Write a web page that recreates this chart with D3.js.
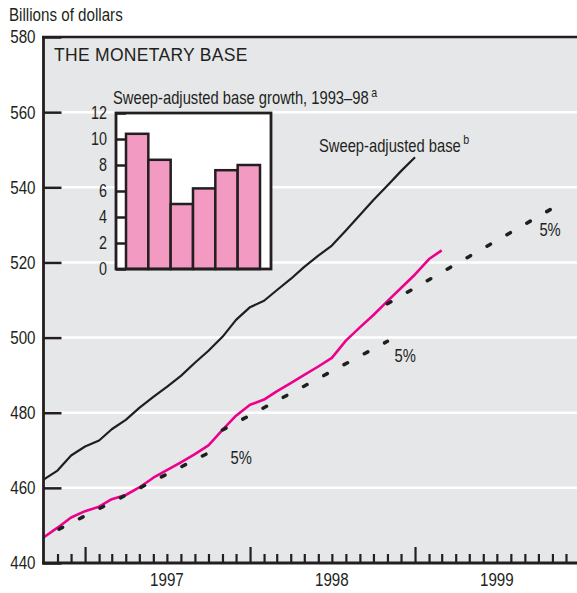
<!DOCTYPE html>
<html>
<head>
<meta charset="utf-8">
<script src="https://cdn.jsdelivr.net/npm/d3@7"></script>
<style>
  html, body { margin: 0; padding: 0; background: #fff; }
  svg { display: block; }
  text { font-family: "Liberation Sans", Arial, sans-serif; fill: #231f20; }
</style>
</head>
<body>
<svg id="chart" width="577" height="593"></svg>
<script>
// Monthly observations, October 1996 onward (billions of dollars)
const months = [
  "1996-10", "1996-11", "1996-12",
  "1997-01", "1997-02", "1997-03", "1997-04", "1997-05", "1997-06",
  "1997-07", "1997-08", "1997-09", "1997-10", "1997-11", "1997-12",
  "1998-01", "1998-02", "1998-03", "1998-04", "1998-05", "1998-06",
  "1998-07", "1998-08", "1998-09", "1998-10", "1998-11", "1998-12",
  "1999-01", "1999-02", "1999-03"
];
const sweepAdjustedBase = [
  462.2, 464.6, 468.6,
  471.0, 472.6, 475.6, 478.1, 481.3, 484.2,
  486.9, 489.8, 493.3, 496.5, 500.2, 504.7,
  508.1, 509.8, 512.6, 515.6, 518.8, 521.8,
  524.5, 528.5, 532.6, 536.6, 540.5, 544.3,
  548.0
];
const monetaryBase = [
  446.8, 449.4, 452.1,
  453.8, 455.0, 457.0, 458.1, 460.1, 462.7,
  464.7, 466.8, 469.0, 471.3, 475.4, 479.2,
  482.1, 483.5, 485.7, 487.9, 490.1, 492.3,
  494.6, 499.2, 502.7, 506.0, 509.7, 513.2,
  516.8, 520.9, 523.2
];

// 5 percent growth paths
const trendFrom = ["1996-10", "1997-11", "1998-11"];
const trendTo = ["1997-11", "1998-11", "1999-11"];
const trendFromValue = [446.9, 475.4, 509.0];
const trendToValue = [471.2, 499.0, 534.4];
const trendLabel = ["5%", "5%", "5%"];

const yTicks = [440, 460, 480, 500, 520, 540, 560, 580];
const yearLabels = ["1997", "1998", "1999"];

// Inset: annual sweep-adjusted base growth, percent
const insetYears = ["1993", "1994", "1995", "1996", "1997", "1998"];
const insetGrowth = [10.4, 8.4, 5.0, 6.2, 7.6, 8.0];
const insetTicks = [0, 2, 4, 6, 8, 10, 12];

const parseMonth = d3.timeParse("%Y-%m");
const svg = d3.select("#chart");

// Condensed lettering: squeeze text horizontally while keeping its anchor point
const NARROW = 0.82;
function narrow(sel) {
  sel.each(function () {
    const t = d3.select(this);
    const x0 = +t.attr("x") || 0;
    t.attr("x", x0 / NARROW).attr("transform", `scale(${NARROW},1)`);
  });
  return sel;
}

const plot = { left: 43.5, right: 580, top: 37, bottom: 563 };

const x = d3.scaleTime()
  .domain([new Date(1996, 9, 1), new Date(2000, 0, 1)])
  .range([plot.left, plot.right]);
const y = d3.scaleLinear()
  .domain([440, 580])
  .range([plot.bottom, plot.top]);

// plot background
svg.append("rect")
  .attr("x", plot.left).attr("y", plot.top)
  .attr("width", plot.right - plot.left).attr("height", plot.bottom - plot.top)
  .attr("fill", "#e6e7e9");

// white gridlines
svg.append("g").selectAll("line")
  .data(yTicks.filter(v => v > 440 && v < 580))
  .join("line")
  .attr("x1", plot.left).attr("x2", plot.right)
  .attr("y1", d => y(d)).attr("y2", d => y(d))
  .attr("stroke", "#fff").attr("stroke-width", 2.5);

// ---- inset bar chart ----
const inset = { left: 116, right: 271, top: 113, bottom: 269 };
const ix = d3.scaleBand().domain(insetYears).range([inset.left + 10, inset.right - 11]).padding(0);
const iy = d3.scaleLinear().domain([0, 12]).range([inset.bottom, inset.top]);

const gi = svg.append("g");
gi.append("rect")
  .attr("x", inset.left).attr("y", inset.top)
  .attr("width", inset.right - inset.left).attr("height", inset.bottom - inset.top)
  .attr("fill", "#fff");
gi.selectAll("rect.bar")
  .data(insetGrowth)
  .join("rect")
  .attr("class", "bar")
  .attr("x", (d, i) => ix(insetYears[i]))
  .attr("width", ix.bandwidth())
  .attr("y", d => iy(d))
  .attr("height", d => iy(0) - iy(d))
  .attr("fill", "#f39ac3")
  .attr("stroke", "#231f20").attr("stroke-width", 2.5);

const insetAxis = gi.append("g")
  .attr("transform", `translate(${inset.left},0)`)
  .call(d3.axisLeft(iy).tickValues(insetTicks).tickSize(-10).tickPadding(9));
insetAxis.select(".domain").remove();
insetAxis.selectAll(".tick line").attr("stroke", "#231f20").attr("stroke-width", 2.5);
narrow(insetAxis.selectAll(".tick text")
  .attr("font-size", 17.5).attr("fill", "#231f20")
  .attr("font-family", null));

gi.append("rect")
  .attr("x", inset.left).attr("y", inset.top)
  .attr("width", inset.right - inset.left).attr("height", inset.bottom - inset.top)
  .attr("fill", "none").attr("stroke", "#231f20").attr("stroke-width", 2.8);

const insetTitle = gi.append("text")
  .attr("x", 113).attr("y", 104)
  .attr("font-size", 18);
insetTitle.append("tspan").text("Sweep-adjusted base growth, 1993\u201398");
insetTitle.append("tspan").attr("font-size", 13).attr("dx", 3).attr("dy", -7).text("a");
narrow(insetTitle);

// ---- series ----
const line = d3.line()
  .x(d => x(d[0]))
  .y(d => y(d[1]));

const basePoints = monetaryBase.map((v, i) => [parseMonth(months[i]), v]);
const sweepPoints = sweepAdjustedBase.map((v, i) => [parseMonth(months[i]), v]);

svg.append("path")
  .attr("d", line(basePoints))
  .attr("fill", "none").attr("stroke", "#ec008c")
  .attr("stroke-width", 2.6).attr("stroke-linejoin", "round");

svg.append("path")
  .attr("d", line(sweepPoints))
  .attr("fill", "none").attr("stroke", "#1f1f1f")
  .attr("stroke-width", 2.2).attr("stroke-linejoin", "round");

// dotted growth paths
const dashOn = 4, dashOff = 19;
const trendStartGap = [17.4, 0, 0];
trendFrom.forEach((f, i) => {
  const pts = [[parseMonth(f), trendFromValue[i]], [parseMonth(trendTo[i]), trendToValue[i]]];
  svg.append("path")
    .attr("d", line(pts))
    .attr("fill", "none").attr("stroke", "#1f1f1f")
    .attr("stroke-width", 3.5).attr("stroke-linecap", "round")
    .attr("stroke-dasharray", `${dashOn} ${dashOff}`)
    .attr("stroke-dashoffset", (dashOn + dashOff - trendStartGap[i]) % (dashOn + dashOff));
});

// growth path labels, placed relative to each path end
const trendLabelOffset = [[8, 18], [7, 21], [-13, 28]];
trendLabel.forEach((t, i) => {
  narrow(svg.append("text")
    .attr("x", x(parseMonth(trendTo[i])) + trendLabelOffset[i][0])
    .attr("y", y(trendToValue[i]) + trendLabelOffset[i][1])
    .attr("font-size", 18)
    .text(t));
});

// series label
const sweepLabel = svg.append("text")
  .attr("x", 319).attr("y", 152)
  .attr("font-size", 18);
sweepLabel.append("tspan").text("Sweep-adjusted base");
sweepLabel.append("tspan").attr("font-size", 13).attr("dx", 3).attr("dy", -8).text("b");
narrow(sweepLabel);

// ---- axes ----
const yAxis = svg.append("g")
  .attr("transform", `translate(${plot.left},0)`)
  .call(d3.axisLeft(y).tickValues(yTicks).tickSize(-18).tickPadding(8).tickFormat(d3.format("d")));
yAxis.select(".domain").remove();
yAxis.selectAll(".tick line").attr("stroke", "#231f20").attr("stroke-width", 2.5);
narrow(yAxis.selectAll(".tick text").attr("font-size", 18.5).attr("fill", "#231f20").attr("font-family", null));

const xAxis = svg.append("g")
  .attr("transform", `translate(0,${plot.bottom})`)
  .call(d3.axisBottom(x)
    .tickValues(d3.timeMonth.range(new Date(1996, 10, 1), new Date(2000, 0, 1)))
    .tickSize(-9).tickFormat(""));
xAxis.select(".domain").remove();
xAxis.selectAll(".tick line")
  .attr("stroke", "#231f20").attr("stroke-width", 2.2)
  .attr("y2", d => d.getMonth() === 0 ? -16 : -9);

// year labels centred in each year
narrow(svg.append("g").selectAll("text")
  .data(yearLabels)
  .join("text")
  .attr("x", d => x(new Date(+d, 6, 1)))
  .attr("y", 586)
  .attr("text-anchor", "middle")
  .attr("font-size", 18.5)
  .text(d => d));

// frame: left axis, bottom axis, top rule
svg.append("line")
  .attr("x1", plot.left).attr("x2", plot.left)
  .attr("y1", plot.top - 1).attr("y2", plot.bottom + 1.5)
  .attr("stroke", "#231f20").attr("stroke-width", 2.8);
svg.append("line")
  .attr("x1", plot.left - 1.4).attr("x2", plot.right)
  .attr("y1", plot.bottom).attr("y2", plot.bottom)
  .attr("stroke", "#231f20").attr("stroke-width", 3);
svg.append("line")
  .attr("x1", plot.left - 1.4).attr("x2", plot.right)
  .attr("y1", plot.top).attr("y2", plot.top)
  .attr("stroke", "#231f20").attr("stroke-width", 2.5);

// titles
narrow(svg.append("text")
  .attr("x", 9).attr("y", 21)
  .attr("font-size", 18.5)
  .text("Billions of dollars"));
svg.append("text")
  .attr("x", 54).attr("y", 61)
  .attr("font-size", 17.5)
  .attr("letter-spacing", 0.3)
  .text("THE MONETARY BASE");
</script>
</body>
</html>
